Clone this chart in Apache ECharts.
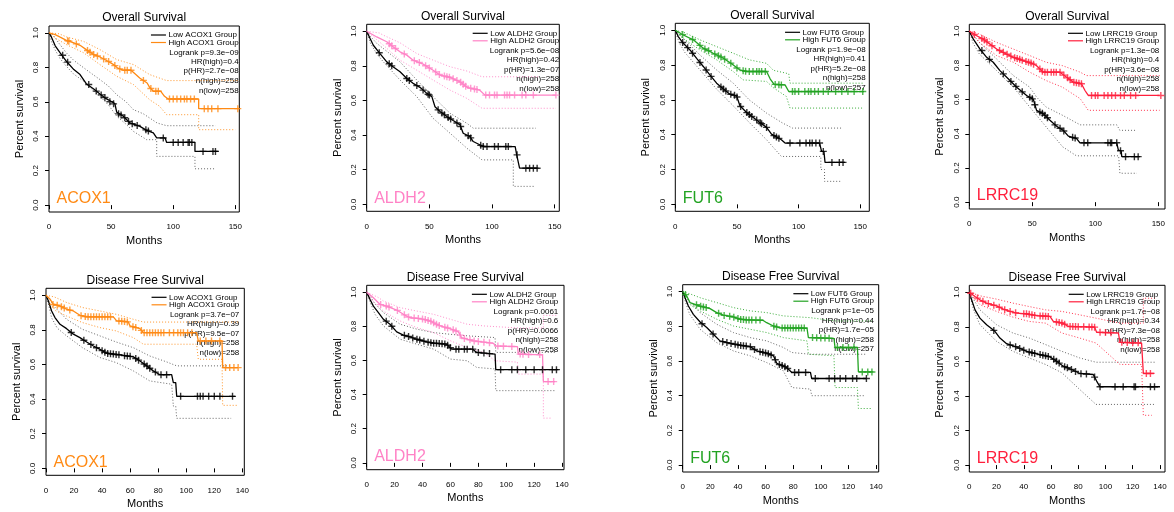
<!DOCTYPE html>
<html><head><meta charset="utf-8">
<script src="https://cdn.jsdelivr.net/npm/echarts@6/dist/echarts.min.js"></script>
<style>html,body{margin:0;padding:0;background:#fff}#c{width:1174px;height:512px}</style>
</head><body><div id="c"></div><script>
// ---------------- data ----------------
const genes = ['ACOX1', 'ALDH2', 'FUT6', 'LRRC19'];
const survivalTitles = ['Overall Survival', 'Disease Free Survival'];
const osTicks = [0, 50, 100, 150];
const dfsTicks = [0, 20, 40, 60, 80, 100, 120, 140];
const yTicks = [0, 0.2, 0.4, 0.6, 0.8, 1.0];

// ACOX1 overall survival
const acox1OsLow = [[0,1],[2,0.975],[5,0.925],[9,0.884],[14,0.835],[20,0.787],[25,0.758],[30,0.705],[36,0.674],[41,0.645],[46,0.618],[53,0.59],[54.5,0.54],[59.8,0.516],[65.2,0.477],[73.2,0.457],[78.6,0.434],[84,0.419],[86.7,0.39],[93.5,0.39],[94.7,0.364],[117.5,0.364],[117.5,0.312],[136.3,0.312]];
const acox1OsLowUp = [[0,1],[3,0.99],[8,0.94],[14,0.884],[20,0.84],[28,0.797],[35,0.76],[41,0.729],[48,0.69],[54.5,0.641],[62,0.6],[68,0.554],[76,0.53],[81,0.506],[87,0.477],[94.7,0.461],[134,0.461]];
const acox1OsLowLo = [[0,1],[2,0.95],[5,0.9],[9,0.85],[14,0.806],[20,0.76],[28,0.719],[35,0.67],[41,0.632],[48,0.58],[54.5,0.516],[62,0.47],[68,0.428],[78.6,0.38],[86.7,0.38],[86.7,0.283],[117.5,0.283],[117.5,0.211],[134,0.211]];
const acox1OsHigh = [[0,1],[5,0.99],[9,0.975],[14,0.957],[20,0.942],[25,0.928],[30,0.903],[36,0.874],[41,0.86],[46,0.841],[52,0.816],[55,0.797],[60,0.783],[66,0.783],[69,0.764],[73,0.738],[79,0.709],[81,0.684],[84,0.661],[90,0.661],[93,0.632],[96,0.616],[120.5,0.616],[120.5,0.56],[153.2,0.56]];
const acox1OsHighUp = [[0,1],[8,0.995],[14,0.977],[28,0.95],[41,0.903],[54.5,0.845],[68,0.816],[81,0.758],[94.7,0.723],[153,0.723]];
const acox1OsHighLo = [[0,1],[5,0.97],[14,0.932],[28,0.884],[41,0.816],[54.5,0.748],[68,0.7],[81,0.612],[89,0.574],[94.7,0.525],[120.5,0.525],[120.5,0.438],[150,0.438]];
const acox1OsLowCens = [[11,0.87],[15,0.83],[32,0.7],[38,0.662],[42,0.64],[45,0.625],[49,0.6],[52,0.588],[56,0.53],[58,0.523],[61,0.507],[64,0.486],[67,0.472],[71,0.462],[78,0.437],[80,0.43],[92,0.39],[100,0.364],[104,0.364],[108,0.364],[112,0.364],[113,0.364],[115,0.364],[124,0.312],[132,0.312],[134,0.312]];
const acox1OsHighCens = [[15,0.955],[16,0.952],[22,0.936],[31,0.898],[33,0.888],[36,0.874],[39,0.866],[44,0.849],[48,0.834],[53,0.81],[57,0.791],[61,0.783],[63,0.783],[66,0.783],[76,0.724],[82,0.677],[86,0.661],[88,0.661],[97,0.616],[100,0.616],[103,0.616],[106,0.616],[109,0.616],[111,0.616],[114,0.616],[117,0.616],[125,0.56],[128,0.56],[131,0.56],[136,0.56],[152,0.56]];
const acox1OsStats = ['Logrank p=9.3e\u221209','HR(high)=0.4','p(HR)=2.7e\u221208','n(high)=258','n(low)=258'];

// ACOX1 disease free survival
const acox1DfsLow = [[0,1],[1.7,0.967],[4,0.909],[6.4,0.871],[10,0.832],[14.7,0.807],[19.5,0.775],[24.2,0.755],[29,0.73],[33.8,0.707],[38.5,0.687],[43.3,0.665],[52.8,0.655],[62.3,0.644],[67,0.62],[71.8,0.592],[76.5,0.563],[81.3,0.541],[89.6,0.541],[90.8,0.495],[92.5,0.495],[93.2,0.416],[134.8,0.416]];
const acox1DfsLowUp = [[0,1],[3,0.97],[6.4,0.93],[14.7,0.861],[26,0.803],[38.5,0.765],[50,0.73],[62.3,0.697],[74,0.649],[86,0.615],[93.2,0.592],[132,0.592]];
const acox1DfsLowLo = [[0,1],[2,0.94],[4,0.87],[8,0.81],[14.7,0.765],[26,0.697],[38.5,0.64],[50,0.611],[62.3,0.563],[74,0.505],[89.6,0.486],[90.8,0.36],[92.5,0.36],[93.2,0.289],[132,0.289]];
const acox1DfsHigh = [[0,1],[2.9,0.977],[5.2,0.948],[10,0.938],[14.7,0.919],[19.5,0.909],[24.2,0.884],[29,0.875],[48,0.875],[50.4,0.852],[58.7,0.846],[59.9,0.823],[67,0.807],[69.4,0.784],[107.4,0.784],[108.6,0.736],[125.5,0.736],[126,0.582],[137,0.582]];
const acox1DfsHighUp = [[0,1],[6,0.99],[14.7,0.958],[26,0.929],[38.5,0.909],[50,0.89],[62.3,0.861],[69.4,0.845],[137,0.845]];
const acox1DfsHighLo = [[0,1],[3,0.95],[7,0.91],[14.7,0.88],[26,0.842],[38.5,0.813],[50,0.794],[62.3,0.755],[69.4,0.717],[107.4,0.717],[108.6,0.63],[125.5,0.63],[126,0.364],[137,0.364]];
const acox1DfsLowCens = [[18,0.785],[27,0.74],[32,0.716],[36,0.697],[40,0.68],[42,0.671],[44,0.664],[46,0.662],[48,0.66],[50,0.658],[52,0.656],[56,0.651],[58,0.649],[60,0.647],[64,0.635],[66,0.625],[70,0.603],[72,0.591],[74,0.578],[78,0.556],[82,0.541],[86,0.541],[96,0.416],[108,0.416],[110,0.416],[112,0.416],[116,0.416],[120,0.416],[124,0.416],[133,0.416]];
const acox1DfsHighCens = [[5,0.947],[8,0.942],[11,0.934],[13,0.926],[17,0.914],[25,0.882],[28,0.877],[30,0.875],[32,0.875],[34,0.875],[36,0.875],[38,0.875],[40,0.875],[42,0.875],[44,0.875],[46,0.875],[52,0.851],[54,0.85],[56,0.848],[58,0.846],[62,0.818],[64,0.813],[68,0.797],[70,0.784],[72,0.784],[74,0.784],[76,0.784],[78,0.784],[80,0.784],[82,0.784],[84,0.784],[88,0.784],[91,0.784],[94,0.784],[96,0.784],[98,0.784],[101,0.784],[104,0.784],[110,0.736],[114,0.736],[118,0.736],[124,0.736],[128,0.582],[131,0.582],[134,0.582],[137,0.582]];
const acox1DfsStats = ['Logrank p=3.7e\u221207','HR(high)=0.39','p(HR)=9.5e\u221207','n(high)=258','n(low)=258'];

// ALDH2 overall survival
const aldh2OsLow = [[0,1],[2.7,0.958],[5.3,0.919],[10.6,0.871],[16,0.823],[21,0.795],[26.6,0.766],[32,0.727],[37,0.699],[42.5,0.676],[48,0.641],[52,0.622],[54.5,0.564],[58.5,0.536],[64,0.507],[69,0.484],[74.5,0.459],[77,0.411],[82.4,0.391],[85,0.363],[93,0.334],[118.5,0.334],[119.7,0.286],[121,0.286],[122,0.209],[137,0.209]];
const aldh2OsLowUp = [[0,1],[3,0.97],[8,0.93],[13.3,0.9],[26.6,0.823],[40,0.718],[53,0.622],[66.5,0.526],[80,0.468],[85,0.44],[135,0.44]];
const aldh2OsLowLo = [[0,1],[3,0.93],[8,0.87],[13.3,0.823],[26.6,0.718],[40,0.622],[53,0.497],[66.5,0.411],[80,0.324],[92,0.257],[117,0.257],[117,0.104],[134,0.104]];
const aldh2OsHigh = [[0,1],[8,0.967],[16,0.939],[21,0.91],[26.6,0.881],[32,0.862],[37,0.833],[45,0.81],[53,0.775],[58.5,0.747],[66.5,0.733],[74.5,0.708],[80,0.676],[90,0.66],[94.4,0.631],[151,0.631]];
const aldh2OsHighUp = [[0,1],[10,0.99],[13.3,0.977],[26.6,0.933],[40,0.871],[53,0.833],[66.5,0.795],[80,0.77],[92,0.737],[137,0.737]];
const aldh2OsHighLo = [[0,1],[5,0.97],[13.3,0.919],[26.6,0.833],[40,0.775],[53,0.718],[66.5,0.66],[80,0.612],[92,0.555],[151,0.555]];
const aldh2OsLowCens = [[10,0.876],[18,0.812],[20,0.8],[32,0.727],[34,0.716],[40,0.686],[45,0.66],[49,0.636],[50,0.631],[57,0.546],[60,0.528],[62,0.517],[65,0.502],[67,0.493],[72,0.47],[75,0.45],[81,0.396],[83,0.384],[91,0.341],[93,0.334],[96,0.334],[102,0.334],[105,0.334],[111,0.334],[113,0.334],[120,0.286],[127,0.209],[130,0.209],[133,0.209],[136,0.209]];
const aldh2OsHighCens = [[18,0.928],[20,0.916],[23,0.9],[30,0.869],[38,0.83],[42,0.819],[47,0.801],[50,0.788],[55,0.765],[58,0.75],[62,0.741],[64,0.737],[66,0.734],[69,0.725],[72,0.716],[75,0.705],[77,0.694],[79,0.682],[83,0.671],[86,0.666],[88,0.663],[95,0.631],[98,0.631],[102,0.631],[104,0.631],[110,0.631],[112,0.631],[114,0.631],[118,0.631],[124,0.631],[127,0.631],[133,0.631],[151,0.631]];
const aldh2OsStats = ['Logrank p=5.6e\u221208','HR(high)=0.42','p(HR)=1.3e\u221207','n(high)=258','n(low)=258'];

// ALDH2 disease free survival
const aldh2DfsLow = [[0,1],[2.4,0.957],[4.8,0.918],[8.4,0.88],[12,0.841],[16.7,0.812],[21.5,0.767],[26.3,0.748],[31,0.738],[35.8,0.724],[43,0.709],[47.8,0.701],[57.3,0.695],[61,0.666],[76,0.666],[78.8,0.647],[92,0.637],[92.5,0.546],[137.4,0.546]];
const aldh2DfsLowUp = [[0,1],[3,0.97],[6,0.93],[12,0.88],[24,0.812],[36,0.783],[48,0.763],[60,0.753],[72,0.744],[92,0.734],[92.5,0.647],[135,0.647]];
const aldh2DfsLowLo = [[0,1],[3,0.93],[6,0.87],[12,0.802],[24,0.724],[36,0.695],[48,0.666],[60,0.608],[72,0.598],[78.8,0.559],[92,0.55],[92.5,0.423],[135,0.423]];
const aldh2DfsHigh = [[0,1],[4.8,0.967],[9.6,0.928],[14.3,0.918],[21.5,0.895],[26.3,0.87],[31,0.85],[38.2,0.845],[45.4,0.831],[52.6,0.802],[59.7,0.786],[65.7,0.767],[68,0.734],[76.4,0.715],[82.4,0.709],[91,0.7],[92,0.685],[108,0.681],[108.7,0.637],[126,0.633],[126.6,0.476],[135,0.476]];
const aldh2DfsHighUp = [[0,1],[8,0.97],[12,0.948],[24,0.909],[36,0.889],[48,0.87],[60,0.841],[72,0.812],[84,0.802],[108.7,0.79],[126.6,0.79],[126.6,0.864],[137,0.864]];
const aldh2DfsHighLo = [[0,1],[4,0.95],[12,0.889],[24,0.831],[36,0.792],[48,0.763],[60,0.715],[72,0.676],[84,0.647],[92,0.598],[108,0.59],[108.7,0.52],[126.6,0.52],[126.6,0.262],[133,0.262]];
const aldh2DfsLowCens = [[14,0.83],[18,0.8],[27,0.747],[30,0.74],[33,0.732],[36,0.724],[38,0.72],[41,0.713],[44,0.707],[46,0.704],[48,0.701],[50,0.7],[52,0.699],[54,0.697],[56,0.696],[58,0.689],[60,0.674],[64,0.666],[66,0.666],[70,0.666],[72,0.666],[76,0.666],[80,0.646],[84,0.643],[88,0.64],[96,0.546],[104,0.546],[108,0.546],[114,0.546],[120,0.546],[126,0.546],[133,0.546],[136,0.546]];
const aldh2DfsHighCens = [[10,0.927],[14,0.919],[16,0.913],[22,0.893],[27,0.867],[30,0.854],[34,0.848],[37,0.846],[40,0.842],[42,0.839],[44,0.834],[46,0.829],[48,0.82],[50,0.812],[52,0.804],[56,0.795],[58,0.79],[62,0.779],[64,0.772],[67,0.748],[70,0.728],[74,0.721],[77,0.714],[80,0.711],[84,0.707],[88,0.703],[94,0.684],[98,0.683],[104,0.682],[110,0.637],[112,0.636],[116,0.635],[124,0.634],[130,0.476],[134,0.476]];
const aldh2DfsStats = ['Logrank p=0.0061','HR(high)=0.6','p(HR)=0.0066','n(high)=258','n(low)=258'];

// FUT6 overall survival
const fut6OsLow = [[0,1],[2.4,0.964],[6.5,0.925],[11.9,0.887],[17.3,0.839],[22.7,0.792],[28,0.744],[33.5,0.696],[39,0.662],[44.3,0.633],[49.7,0.623],[52.4,0.566],[57.8,0.528],[63.2,0.499],[68.6,0.47],[74,0.442],[78,0.403],[86,0.371],[89,0.352],[117,0.352],[118.6,0.304],[120.5,0.304],[121.4,0.241],[137.6,0.241]];
const fut6OsLowUp = [[0,1],[4,0.97],[10,0.93],[20,0.858],[33.5,0.772],[47,0.696],[60,0.6],[74,0.524],[87,0.467],[95,0.438],[135,0.438]];
const fut6OsLowLo = [[0,1],[3,0.93],[8,0.87],[20,0.772],[33.5,0.662],[47,0.566],[60,0.47],[74,0.371],[86,0.275],[118,0.275],[118,0.2],[121,0.2],[121,0.132],[135,0.132]];
const fut6OsHigh = [[0,1],[6.5,0.973],[14.6,0.945],[22.7,0.897],[30.8,0.868],[39,0.839],[47,0.801],[52.4,0.772],[57.8,0.763],[74,0.763],[77,0.72],[80,0.69],[89,0.686],[92,0.648],[153,0.648]];
const fut6OsHighUp = [[0,1],[8,0.985],[20,0.945],[33.5,0.906],[47,0.868],[60,0.83],[74,0.81],[79.5,0.77],[92,0.75],[93,0.696],[153,0.696]];
const fut6OsHighLo = [[0,1],[5,0.96],[20,0.887],[33.5,0.83],[47,0.763],[55,0.715],[74,0.706],[79.5,0.67],[90,0.62],[93,0.553],[153,0.553]];
const fut6OsLowCens = [[6,0.93],[10,0.9],[14,0.868],[20,0.815],[25,0.772],[29,0.735],[37,0.674],[39,0.662],[41,0.651],[45,0.632],[48,0.626],[50,0.617],[53,0.562],[58,0.527],[60,0.516],[62,0.505],[66,0.484],[69,0.468],[70,0.463],[74,0.442],[80,0.395],[82,0.387],[84,0.379],[93,0.352],[101,0.352],[106,0.352],[109,0.352],[111,0.352],[114,0.352],[117,0.352],[120,0.304],[127,0.241],[133,0.241],[136,0.241]];
const fut6OsHighCens = [[6,0.975],[14,0.947],[20,0.913],[24,0.892],[27,0.882],[32,0.864],[35,0.853],[37,0.846],[40,0.834],[45,0.811],[50,0.783],[55,0.768],[57,0.764],[60,0.763],[63,0.763],[66,0.763],[68,0.763],[70,0.763],[73,0.763],[81,0.689],[84,0.687],[86,0.686],[95,0.648],[97,0.648],[100,0.648],[105,0.648],[108,0.648],[110,0.648],[113,0.648],[116,0.648],[120,0.648],[124,0.648],[130,0.648],[135,0.648],[140,0.648],[145,0.648],[152,0.648]];
const fut6OsStats = ['Logrank p=1.9e\u221208','HR(high)=0.41','p(HR)=5.2e\u221208','n(high)=258','n(low)=257'];

// FUT6 disease free survival
const fut6DfsLow = [[0,1],[1.7,0.965],[4.1,0.917],[7.7,0.869],[12.6,0.825],[17.4,0.793],[22.2,0.754],[27,0.716],[34.3,0.702],[41.5,0.691],[48.8,0.683],[53.6,0.658],[60.8,0.645],[65.7,0.63],[68.1,0.587],[75.3,0.562],[79,0.534],[92.5,0.534],[93.4,0.499],[133.2,0.499]];
const fut6DfsLowUp = [[0,1],[2,0.985],[5,0.94],[12.6,0.879],[24.6,0.812],[36.7,0.764],[48.8,0.735],[60.8,0.716],[72.9,0.678],[79,0.649],[92.2,0.639],[133,0.639]];
const fut6DfsLowLo = [[0,1],[2,0.94],[5,0.87],[12.6,0.783],[24.6,0.706],[36.7,0.658],[48.8,0.63],[60.8,0.591],[72.9,0.543],[79,0.447],[92.5,0.438],[93.4,0.4],[132,0.4]];
const fut6DfsHigh = [[0,1],[2.9,0.975],[5.3,0.937],[12.6,0.917],[19.8,0.902],[24.6,0.879],[29.4,0.864],[36.7,0.854],[41.5,0.841],[46.3,0.837],[58,0.835],[60.8,0.821],[65.7,0.802],[70.5,0.791],[90,0.789],[91,0.735],[109.5,0.73],[110.3,0.678],[126.5,0.678],[127.2,0.537],[138,0.537]];
const fut6DfsHighUp = [[0,1],[6,0.985],[12.6,0.965],[24.6,0.937],[36.7,0.908],[48.8,0.889],[60.8,0.879],[72.9,0.86],[92.2,0.85],[110.3,0.831],[137,0.831]];
const fut6DfsHighLo = [[0,1],[3,0.96],[6,0.92],[12.6,0.889],[24.6,0.841],[36.7,0.802],[48.8,0.783],[60.8,0.764],[72.9,0.735],[90,0.716],[91,0.639],[109.5,0.63],[110.3,0.447],[126.5,0.447],[127.2,0.326],[137,0.326]];
const fut6DfsLowCens = [[14,0.815],[22,0.756],[29,0.712],[32,0.706],[35,0.701],[38,0.697],[40,0.693],[42,0.69],[44,0.688],[46,0.686],[49,0.682],[52,0.666],[56,0.654],[58,0.65],[60,0.646],[62,0.642],[64,0.635],[67,0.607],[70,0.58],[72,0.574],[74,0.567],[76,0.557],[81,0.534],[84,0.534],[89,0.534],[96,0.499],[106,0.499],[110,0.499],[114,0.499],[118,0.499],[123,0.499],[126,0.499],[133,0.499]];
const fut6DfsHighCens = [[2,0.983],[10,0.924],[13,0.916],[15,0.912],[17,0.908],[26,0.875],[30,0.863],[34,0.858],[37,0.853],[40,0.845],[42,0.84],[44,0.839],[46,0.837],[48,0.837],[50,0.837],[53,0.836],[56,0.836],[66,0.801],[68,0.796],[72,0.791],[74,0.791],[76,0.791],[78,0.791],[80,0.791],[82,0.79],[84,0.79],[86,0.79],[88,0.79],[94,0.735],[97,0.734],[100,0.733],[103,0.732],[106,0.731],[112,0.678],[116,0.678],[120,0.678],[124,0.678],[130,0.537],[134,0.537],[137,0.537]];
const fut6DfsStats = ['Logrank p=1e\u221205','HR(high)=0.44','p(HR)=1.7e\u221205','n(high)=258','n(low)=257'];

// LRRC19 overall survival
const lrrc19OsLow = [[0,1],[3.2,0.953],[8.5,0.895],[13.8,0.847],[19,0.818],[24.3,0.769],[32.3,0.711],[37.6,0.672],[45.5,0.624],[50.8,0.601],[53.4,0.537],[58.7,0.517],[64,0.479],[69.3,0.444],[74.6,0.42],[78.6,0.386],[85.2,0.372],[87.8,0.347],[117,0.347],[118.3,0.304],[120.5,0.3],[121,0.266],[135.4,0.266]];
const lrrc19OsLowUp = [[0,1],[3,0.98],[8,0.934],[21.7,0.837],[35,0.74],[48,0.672],[53.4,0.614],[61,0.556],[74,0.508],[88,0.452],[117,0.452],[119.5,0.42],[133,0.42]];
const lrrc19OsLowLo = [[0,1],[3,0.93],[8,0.866],[21.7,0.769],[35,0.672],[48,0.556],[61,0.44],[74,0.324],[85,0.271],[118.5,0.271],[119.5,0.169],[133,0.169]];
const lrrc19OsHigh = [[0,1],[5.8,0.973],[11.1,0.953],[16.4,0.924],[21.7,0.895],[29.6,0.866],[35,0.847],[42.9,0.828],[50.8,0.808],[53.4,0.798],[58.7,0.76],[72,0.76],[77.2,0.731],[82.5,0.702],[89,0.692],[91.8,0.653],[94.4,0.624],[151,0.624]];
const lrrc19OsHighUp = [[0,1],[8,0.983],[21.7,0.934],[35,0.895],[48,0.857],[61,0.818],[74,0.798],[88,0.76],[93,0.74],[151,0.74]];
const lrrc19OsHighLo = [[0,1],[5,0.96],[8,0.934],[21.7,0.857],[35,0.818],[48,0.76],[61,0.711],[74,0.672],[88,0.605],[94.4,0.537],[151,0.537]];
const lrrc19OsLowCens = [[10,0.887],[16,0.835],[27,0.75],[33,0.706],[37,0.677],[42,0.645],[48,0.613],[50,0.604],[52,0.57],[56,0.527],[58,0.52],[60,0.508],[62,0.494],[68,0.452],[72,0.432],[75,0.416],[82,0.379],[84,0.375],[91,0.347],[94,0.347],[110,0.347],[112,0.347],[113,0.347],[117,0.347],[120,0.301],[124,0.266],[131,0.266],[134,0.266]];
const lrrc19OsHighCens = [[4,0.98],[10,0.957],[12,0.948],[14,0.937],[18,0.915],[24,0.887],[27,0.876],[30,0.865],[33,0.854],[36,0.845],[38,0.84],[40,0.835],[42,0.83],[45,0.823],[47,0.818],[49,0.813],[51,0.807],[56,0.779],[58,0.765],[60,0.76],[62,0.76],[65,0.76],[67,0.76],[69,0.76],[72,0.76],[75,0.743],[78,0.727],[80,0.716],[83,0.701],[85,0.698],[87,0.695],[89,0.692],[97,0.624],[100,0.624],[102,0.624],[107,0.624],[110,0.624],[113,0.624],[116,0.624],[120,0.624],[123,0.624],[128,0.624],[132,0.624],[152,0.624]];
const lrrc19OsStats = ['Logrank p=1.3e\u221208','HR(high)=0.4','p(HR)=3.6e\u221208','n(high)=258','n(low)=258'];

// LRRC19 disease free survival
const lrrc19DfsLow = [[0,1],[1.7,0.956],[4.2,0.898],[7.8,0.85],[12.7,0.812],[18.8,0.774],[22.5,0.735],[27.4,0.702],[34.8,0.683],[42.1,0.658],[51.9,0.639],[59.2,0.626],[64.1,0.601],[69,0.572],[75.1,0.553],[81.3,0.53],[91,0.524],[93.5,0.486],[95.9,0.453],[140,0.453]];
const lrrc19DfsLowUp = [[0,1],[3,0.96],[7.8,0.898],[20,0.812],[32,0.764],[44,0.735],[56,0.697],[68,0.658],[81,0.62],[93,0.595],[137,0.595]];
const lrrc19DfsLowLo = [[0,1],[3,0.9],[7.8,0.812],[20,0.716],[32,0.658],[44,0.62],[56,0.582],[68,0.534],[81,0.438],[93,0.351],[137,0.351]];
const lrrc19DfsHigh = [[0,1],[4.2,0.975],[7.8,0.956],[12.7,0.937],[20,0.921],[25,0.902],[29.9,0.889],[34.8,0.879],[42.1,0.875],[49.4,0.864],[59.2,0.86],[61.7,0.831],[68.8,0.821],[72.7,0.802],[92,0.798],[93.5,0.768],[109.5,0.764],[110.6,0.71],[126.5,0.706],[127.8,0.53],[136,0.53]];
const lrrc19DfsHighUp = [[0,1],[8,0.979],[20,0.96],[32,0.937],[44,0.917],[56,0.898],[68,0.889],[81,0.869],[93,0.85],[110.6,0.821],[127.8,0.821],[127.8,0.965],[136,0.965]];
const lrrc19DfsHighLo = [[0,1],[4,0.96],[8,0.927],[20,0.889],[32,0.856],[44,0.831],[56,0.821],[68,0.764],[81,0.735],[93,0.706],[110.6,0.582],[126.5,0.582],[127.8,0.288],[134,0.288]];
const lrrc19DfsLowCens = [[18,0.779],[30,0.695],[34,0.685],[37,0.675],[40,0.665],[44,0.654],[46,0.65],[48,0.646],[52,0.639],[54,0.635],[56,0.632],[58,0.628],[62,0.612],[64,0.601],[66,0.59],[70,0.569],[72,0.563],[75,0.553],[78,0.542],[82,0.529],[86,0.527],[92,0.509],[96,0.453],[107,0.453],[113,0.453],[121,0.453],[122,0.453],[133,0.453],[136,0.453]];
const lrrc19DfsHighCens = [[1,0.994],[6,0.966],[10,0.948],[14,0.934],[18,0.925],[22,0.913],[26,0.899],[30,0.889],[34,0.881],[40,0.876],[42,0.875],[44,0.872],[46,0.869],[48,0.866],[52,0.863],[54,0.862],[56,0.861],[58,0.86],[64,0.828],[66,0.825],[68,0.822],[70,0.815],[74,0.802],[76,0.801],[78,0.801],[80,0.8],[84,0.8],[88,0.799],[90,0.799],[92,0.798],[96,0.768],[100,0.767],[104,0.766],[112,0.71],[116,0.709],[120,0.708],[124,0.707],[130,0.53],[133,0.53]];
const lrrc19DfsStats = ['Logrank p=1.7e\u221208','HR(high)=0.34','p(HR)=7.3e\u221208','n(high)=258','n(low)=258'];

// ---------------- assembly ----------------
const panels = [
  {g:0,k:0,low:acox1OsLow,lowUp:acox1OsLowUp,lowLo:acox1OsLowLo,high:acox1OsHigh,highUp:acox1OsHighUp,highLo:acox1OsHighLo,lc:acox1OsLowCens,hc:acox1OsHighCens,stats:acox1OsStats},
  {g:0,k:1,low:acox1DfsLow,lowUp:acox1DfsLowUp,lowLo:acox1DfsLowLo,high:acox1DfsHigh,highUp:acox1DfsHighUp,highLo:acox1DfsHighLo,lc:acox1DfsLowCens,hc:acox1DfsHighCens,stats:acox1DfsStats},
  {g:1,k:0,low:aldh2OsLow,lowUp:aldh2OsLowUp,lowLo:aldh2OsLowLo,high:aldh2OsHigh,highUp:aldh2OsHighUp,highLo:aldh2OsHighLo,lc:aldh2OsLowCens,hc:aldh2OsHighCens,stats:aldh2OsStats},
  {g:1,k:1,low:aldh2DfsLow,lowUp:aldh2DfsLowUp,lowLo:aldh2DfsLowLo,high:aldh2DfsHigh,highUp:aldh2DfsHighUp,highLo:aldh2DfsHighLo,lc:aldh2DfsLowCens,hc:aldh2DfsHighCens,stats:aldh2DfsStats},
  {g:2,k:0,low:fut6OsLow,lowUp:fut6OsLowUp,lowLo:fut6OsLowLo,high:fut6OsHigh,highUp:fut6OsHighUp,highLo:fut6OsHighLo,lc:fut6OsLowCens,hc:fut6OsHighCens,stats:fut6OsStats},
  {g:2,k:1,low:fut6DfsLow,lowUp:fut6DfsLowUp,lowLo:fut6DfsLowLo,high:fut6DfsHigh,highUp:fut6DfsHighUp,highLo:fut6DfsHighLo,lc:fut6DfsLowCens,hc:fut6DfsHighCens,stats:fut6DfsStats},
  {g:3,k:0,low:lrrc19OsLow,lowUp:lrrc19OsLowUp,lowLo:lrrc19OsLowLo,high:lrrc19OsHigh,highUp:lrrc19OsHighUp,highLo:lrrc19OsHighLo,lc:lrrc19OsLowCens,hc:lrrc19OsHighCens,stats:lrrc19OsStats},
  {g:3,k:1,low:lrrc19DfsLow,lowUp:lrrc19DfsLowUp,lowLo:lrrc19DfsLowLo,high:lrrc19DfsHigh,highUp:lrrc19DfsHighUp,highLo:lrrc19DfsHighLo,lc:lrrc19DfsLowCens,hc:lrrc19DfsHighCens,stats:lrrc19DfsStats}
];

// layout (pixel boxes of each plot region) and styles
const layout = [
  {l:49,   t:26,    r:239.3, b:212,   xmax:153.2, ins:0.6},
  {l:46,   t:288.3, r:244.3, b:475.3, xmax:141.4, ins:5},
  {l:366.7,t:24.3,  r:559.3, b:211.3, xmax:153.7, ins:0.2},
  {l:366.7,t:285.3, r:564,   b:469.7, xmax:141.4, ins:5.7},
  {l:675.3,t:23.3,  r:869.3, b:211.3, xmax:157.3, ins:3.6},
  {l:682.7,t:284.7, r:878.7, b:472,   xmax:141.9, ins:4.7},
  {l:969.3,t:24.3,  r:1165,  b:209,   xmax:155.3, ins:5.7},
  {l:969.3,t:285.3, r:1165,  b:472,   xmax:143.7, ins:5}
];
const geneColors = ['#FF8A14', '#FF82C6', '#22A322', '#FF1F3C'];
const FONT = '"Liberation Sans", Arial, Helvetica, sans-serif';
const PLUS = 'path://M0,4H10V6H0ZM4,0H6V10H4Z';

const mctx = document.createElement('canvas').getContext('2d');
function textW(s, size) { mctx.font = size + 'px ' + FONT; return mctx.measureText(s).width; }

const grid = [], xAxis = [], yAxis = [], series = [], graphic = [];
panels.forEach((p, i) => {
  const L = layout[i], col = geneColors[p.g];
  grid.push({left: L.l, top: L.t, width: L.r - L.l, height: L.b - L.t, show: true,
    borderColor: '#000', borderWidth: 1, backgroundColor: 'transparent', outerBoundsMode: 'none', containLabel: false});
  const ticks = p.k === 0 ? osTicks : dfsTicks;
  xAxis.push({gridIndex: i, type: 'value', min: 0, max: L.xmax,
    axisLine: {show: false}, splitLine: {show: false},
    axisTick: {show: true, length: 4, customValues: ticks, lineStyle: {color: '#000', width: 1}},
    axisLabel: {customValues: ticks, fontSize: 8, color: '#000', margin: 11, fontFamily: FONT}});
  yAxis.push({gridIndex: i, type: 'value', min: -0.04, max: 1.04,
    axisLine: {show: false}, splitLine: {show: false},
    axisTick: {show: true, length: 4, customValues: yTicks, lineStyle: {color: '#000', width: 1}},
    axisLabel: {customValues: yTicks, fontSize: 8, color: '#000', margin: 9, rotate: 90, fontFamily: FONT,
      formatter: v => v.toFixed(1)}});
  const base = {xAxisIndex: i, yAxisIndex: i, silent: true, animation: false};
  const dotted = (data, c) => Object.assign({type: 'line', data, symbol: 'none',
    lineStyle: {color: c, width: 0.9, type: [1, 2]}, z: 2}, base);
  series.push(dotted(p.lowUp, '#555'), dotted(p.lowLo, '#555'), dotted(p.highUp, col), dotted(p.highLo, col));
  series.push(Object.assign({type: 'line', data: p.low, symbol: 'none', lineStyle: {color: '#000', width: 1.3}, z: 3}, base));
  series.push(Object.assign({type: 'line', data: p.high, symbol: 'none', lineStyle: {color: col, width: 1.3}, z: 3}, base));
  series.push(Object.assign({type: 'scatter', data: p.lc, symbol: PLUS, symbolSize: 7, itemStyle: {color: '#000'}, z: 4}, base));
  series.push(Object.assign({type: 'scatter', data: p.hc, symbol: PLUS, symbolSize: 7, itemStyle: {color: col}, z: 4}, base));

  const cx = (L.l + L.r) / 2, cy = (L.t + L.b) / 2;
  const txt = (s, x, y, size, opts) => graphic.push(Object.assign({type: 'text', x, y, silent: true,
    style: Object.assign({text: s, fill: '#000', fontSize: size, fontFamily: FONT, align: 'center', verticalAlign: 'middle'}, opts || {})}));
  txt(survivalTitles[p.k], cx, L.t - 8, 12);
  txt('Months', cx, L.b + 28.5, 11);
  graphic.push({type: 'text', x: L.l - 29, y: cy, rotation: Math.PI / 2, silent: true,
    style: {text: 'Percent survival', fill: '#000', fontSize: 11, fontFamily: FONT, align: 'center', verticalAlign: 'middle'}});
  txt(genes[p.g], L.l + 7.5, L.b - 13, 16, {fill: col, align: 'left'});
  const lowLab = 'Low ' + genes[p.g] + ' Group', highLab = 'High ' + genes[p.g] + ' Group';
  const right = L.r - L.ins;
  const tl = right - Math.max(textW(lowLab, 8), textW(highLab, 8));
  [[lowLab, '#000', 9], [highLab, col, 16.5]].forEach(([s, c, dy]) => {
    graphic.push({type: 'line', silent: true, shape: {x1: tl - 17.5, y1: L.t + dy, x2: tl - 2.5, y2: L.t + dy},
      style: {stroke: c, lineWidth: 1.2}});
    txt(s, tl, L.t + dy, 8, {align: 'left'});
  });
  const rows = [26.5, 35.8, 45.2, 54.7, 64.5];
  p.stats.forEach((s, j) => txt(s, right, L.t + rows[j], 8, {align: 'right'}));
});

const chart = echarts.init(document.getElementById('c'), null, {renderer: 'canvas'});
chart.setOption({backgroundColor: '#fff', animation: false, textStyle: {fontFamily: FONT},
  grid, xAxis, yAxis, series, graphic});
</script></body></html>
